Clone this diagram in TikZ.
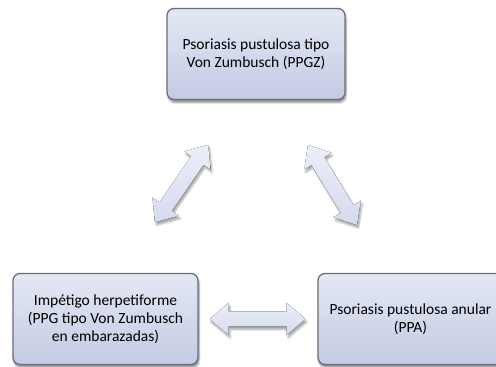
\documentclass[tikz,border=0pt]{standalone}
\usepackage{fontspec}
\setmainfont{Carlito}
\usetikzlibrary{shadows.blur}
\definecolor{boxtop}{HTML}{E4E8F4}
\definecolor{boxbot}{HTML}{C3CBE3}
\definecolor{boxline}{HTML}{6A6E78}
\definecolor{arrtop}{HTML}{ECEFF8}
\definecolor{arrbot}{HTML}{D5DAEE}
\tikzset{
  box/.style={rounded corners=7pt, draw=boxline, line width=1.3pt,
    top color=boxtop, bottom color=boxbot, align=center,
    font=\fontsize{15.5}{17.8}\selectfont, inner sep=0pt,
    minimum width=182pt, minimum height=91pt,
    blur shadow={shadow xshift=1pt, shadow yshift=-3pt, shadow blur steps=6, shadow opacity=45}},
  blockarrow/.style={top color=arrtop, bottom color=arrbot, draw=none,
    blur shadow={shadow xshift=1.5pt, shadow yshift=-3pt, shadow blur steps=5, shadow opacity=35}}
}
\newcommand\myDblArrow[3]{% center, angle, length
  \fill[blockarrow, shift={(#1)}, rotate=#2]
    ({-#3/2},0) -- ({-#3/2+19},16) -- ({-#3/2+19},7.5) -- ({#3/2-19},7.5) -- ({#3/2-19},16)
    -- ({#3/2},0) -- ({#3/2-19},-16) -- ({#3/2-19},-7.5) -- ({-#3/2+19},-7.5) -- ({-#3/2+19},-16) -- cycle;}
\begin{document}
\begin{tikzpicture}[x=1pt,y=1pt]
  \useasboundingbox (0,0) rectangle (496,367);
  \node[box, minimum width=178pt] (top) at (256,313) {Psoriasis pustulosa tipo\\Von Zumbusch (PPGZ)};
  \node[box, minimum width=185pt] (bl) at (105.5,48) {Impétigo herpetiforme\\(PPG tipo Von Zumbusch\\en embarazadas)};
  \node[box, minimum width=185pt] (br) at (410.5,48) {Psoriasis pustulosa anular\\(PPA)};
  \coordinate (hc) at (257.5,48);
  \coordinate (lc) at (181.5,183.5);
  \coordinate (rc) at (332.5,182);
  \myDblArrow{hc}{0}{96}
  \myDblArrow{lc}{55.5}{94}
  \myDblArrow{rc}{-58.5}{94}
\end{tikzpicture}
\end{document}
